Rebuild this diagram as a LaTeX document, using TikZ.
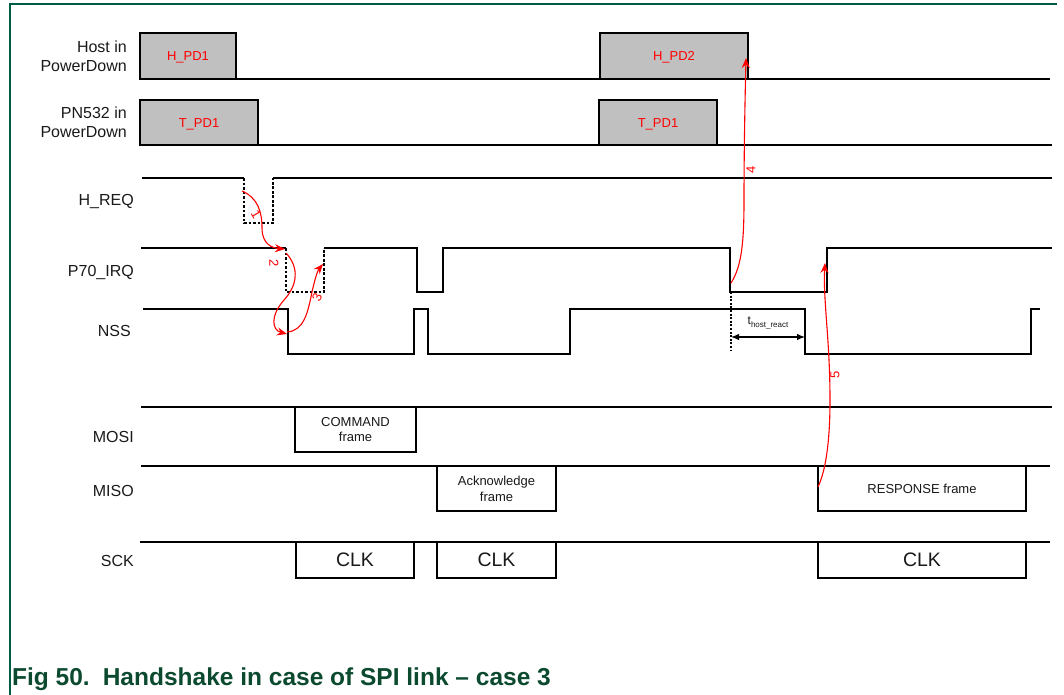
\documentclass[tikz,border=0pt]{standalone}
\usepackage{fontspec}
\setmainfont{Liberation Sans}
\usetikzlibrary{arrows.meta}
\definecolor{nxpgreen}{RGB}{0,92,68}
\definecolor{capgreen}{RGB}{12,74,48}
\definecolor{pdgray}{RGB}{192,192,192}
\definecolor{txt}{RGB}{25,25,25}
\tikzset{
  sig/.style={line width=1.8pt, black, line join=miter},
  dsig/.style={line width=2.8pt, black, dash pattern=on 2.6pt off 1.9pt},
  pdbox/.style={draw, line width=1.8pt, fill=pdgray, text=red, font=\fontsize{13}{13}\selectfont, inner sep=0pt, text height=9.3pt, text depth=0pt},
  framebox/.style={draw, line width=1.8pt, fill=white, text=txt, align=center, inner sep=0pt},
  clkbox/.style={draw, line width=1.8pt, fill=white, text=txt, font=\fontsize{19.5}{20}\selectfont, inner sep=0pt},
  lab/.style={font=\fontsize{16}{16}\selectfont, text=txt, anchor=east, inner sep=0pt, text height=11.5pt, text depth=0pt},
  evt/.style={red, line width=1.1pt, -{Stealth[length=10pt,width=8pt]}},
  num/.style={text=red, font=\fontsize{13}{13}\selectfont, inner sep=0pt}
}
\begin{document}
\begin{tikzpicture}[x=1pt,y=-1pt]
\useasboundingbox (0,0) rectangle (1064,695);
% frame
\draw[nxpgreen, line width=1.5pt] (10,695) -- (10,4) -- (1057,4);

% ---------- labels ----------
\node[lab] (l1a) at (127,46.5) {Host in};
\node[lab] (l1b) at (127,65.5) {PowerDown};
\node[lab] (l2a) at (127,112.5) {PN532 in};
\node[lab] (l2b) at (127,131.5) {PowerDown};
\node[lab] (lhreq) at (134,200) {H\_REQ};
\node[lab] (lirq) at (134,271) {P70\_IRQ};
\node[lab] (lnss) at (131,331) {NSS};
\node[lab] (lmosi) at (134,437) {MOSI};
\node[lab] (lmiso) at (134,491) {MISO};
\node[lab] (lsck) at (134,561) {SCK};

% ---------- Host in PowerDown ----------
\draw[sig] (236,79) -- (1050,79);
\node[pdbox, minimum width=96pt, minimum height=46pt] (hpd1) at (188,56) {H\_PD1};
\node[pdbox, minimum width=148pt, minimum height=46pt] (hpd2) at (674,56) {H\_PD2};

% ---------- PN532 in PowerDown ----------
\draw[sig] (258,145) -- (1052,145);
\node[pdbox, minimum width=118pt, minimum height=45pt] (tpd1) at (199,122.5) {T\_PD1};
\node[pdbox, minimum width=118pt, minimum height=45pt] (tpd2) at (658,122.5) {T\_PD1};

% ---------- H_REQ ----------
\draw[sig] (142,178) -- (244,178);
\draw[dsig] (244,178) -- (244,223) -- (273,223) -- (273,178);
\draw[sig] (273,178) -- (1052,178);

% ---------- P70_IRQ ----------
\draw[sig] (141,248) -- (286,248);
\draw[dsig] (286,248) -- (286,292) -- (324,292) -- (324,248);
\draw[sig] (324,248) -- (417,248) -- (417,292) -- (443,292) -- (443,248) -- (730,248) -- (730,292) -- (827,292) -- (827,248) -- (1052,248);

% ---------- NSS ----------
\draw[sig] (143,309) -- (288,309) -- (288,354) -- (414,354) -- (414,309) -- (428,309) -- (428,354) -- (570,354) -- (570,309) -- (805,309) -- (805,354) -- (1031,354) -- (1031,309) -- (1040,309);

% t_host_react
\coordinate (tdtop) at (731,292);
\coordinate (tdbot) at (731,351);
\draw[line width=2.2pt, dash pattern=on 2pt off 1.6pt] (tdtop) -- (tdbot);
\coordinate (tA) at (731,337);
\coordinate (tB) at (805,337);
\draw[line width=1.2pt, {Latex[length=8pt,width=6.5pt]}-{Latex[length=8pt,width=6.5pt]}] (tA) -- (tB);
\node[inner sep=0pt, text=txt] (treact) at (768,323) {\fontsize{12}{12}\selectfont t\raisebox{-2.5pt}{\fontsize{8}{8}\selectfont host\_react}};

% ---------- MOSI ----------
\draw[sig] (141,407) -- (1052,407);
\node[framebox, font=\fontsize{13}{14.5}\selectfont, minimum width=121pt, minimum height=45pt] (cmd) at (355.5,429.5) {COMMAND\\frame};

% ---------- MISO ----------
\draw[sig] (141,466) -- (1050,466);
\node[framebox, font=\fontsize{13}{16}\selectfont, minimum width=119pt, minimum height=45pt] (ack) at (496.5,488.5) {Acknowledge\\frame};
\node[framebox, font=\fontsize{13}{15}\selectfont, minimum width=208pt, minimum height=45pt] (resp) at (922,488.5) {RESPONSE frame};

% ---------- SCK ----------
\draw[sig] (140,542) -- (1050,542);
\node[clkbox, minimum width=118pt, minimum height=36pt] (clk1) at (355,560) {CLK};
\node[clkbox, minimum width=119pt, minimum height=36pt] (clk2) at (496.5,560) {CLK};
\node[clkbox, minimum width=208pt, minimum height=36pt] (clk3) at (922,560) {\raisebox{-3pt}{CLK}};

% ---------- red event arrows ----------
\coordinate (e1s) at (242,191);
\coordinate (e1t) at (285,249);
\draw[evt] (e1s) .. controls (258,198) and (262,212) .. (262,228) .. controls (262,244) and (272,248) .. (e1t);
\node[num, rotate=-60] (n1) at (256,214) {1};

\coordinate (e2s) at (286,253);
\coordinate (e2t) at (287,334);
\draw[evt] (e2s) .. controls (300,268) and (297,286) .. (284,300) .. controls (270,316) and (272,330) .. (e2t);
\node[num, rotate=-90] (n2) at (274,263) {2};

\coordinate (e3s) at (287,332);
\coordinate (e3t) at (323,264);
\draw[evt] (e3s) .. controls (304,331) and (308,312) .. (312,292) .. controls (315,278) and (318,270) .. (e3t);
\node[num, rotate=65] (n3) at (317,297) {3};

\coordinate (e4s) at (731,283);
\coordinate (e4t) at (746,58);
\draw[evt] (e4s) .. controls (742,266) and (744,240) .. (744,200) .. controls (744,150) and (745,100) .. (e4t);
\node[num, rotate=90] (n4) at (751,170) {4};

\coordinate (e5s) at (818,487);
\coordinate (e5t) at (825,263);
\draw[evt] (e5s) .. controls (826,470) and (830,440) .. (830,400) .. controls (830,340) and (823,300) .. (e5t);
\node[num, rotate=90] (n5) at (835,375) {5};

% ---------- caption ----------
\node[anchor=base west, inner sep=0pt, text=capgreen, font=\bfseries\fontsize{24.5}{24.5}\selectfont] (cap) at (12,685) {Fig 50.\hspace{13pt}Handshake in case of SPI link – case 3};
\end{tikzpicture}
\end{document}
